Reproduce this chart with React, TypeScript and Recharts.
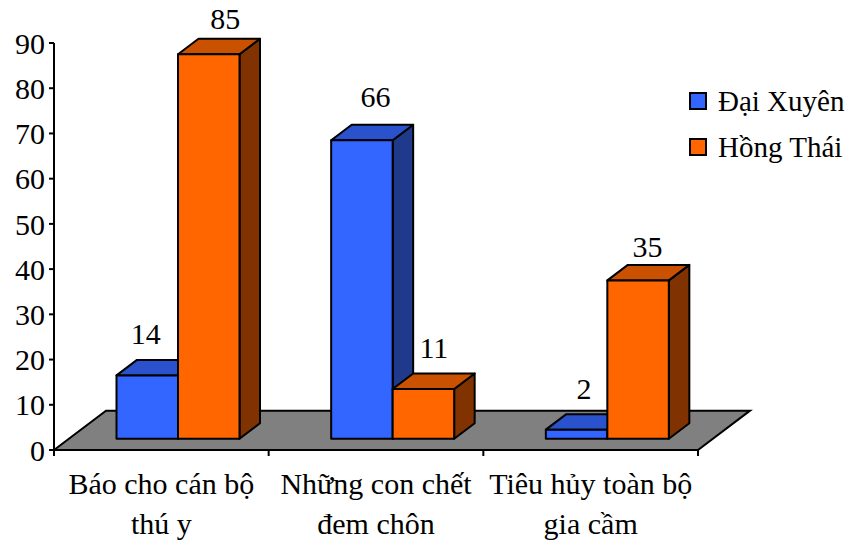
import { BarChart, Bar, XAxis, YAxis, Legend, LabelList, ReferenceArea } from 'recharts';

const categories = ['Báo cho cán bộ\nthú y', 'Những con chết\nđem chôn', 'Tiêu hủy toàn bộ\ngia cầm'];
const daiXuyen = [14, 66, 2];
const hongThai = [85, 11, 35];
const yTicks = [0, 10, 20, 30, 40, 50, 60, 70, 80, 90];

const chartData = categories.map((name, i) => ({ name, daiXuyen: daiXuyen[i], hongThai: hongThai[i] }));

const FONT = '"Liberation Serif", "Times New Roman", serif';
const FONT_SIZE = 30;
const LEGEND_FONT_SIZE = 29;

const PLOT_WIDTH = 644;
const BAND = PLOT_WIDTH / categories.length;

// Fake 3D: bars sit partway back on the floor and extrude up and to the right
const SHIFT_X = 16.5;
const SHIFT_Y = -11.3;
const DEPTH_X = 20.5;
const DEPTH_Y = -15.5;
const FLOOR_SKEW = 52;
const FLOOR_UNITS = 8.7; // floor depth in axis units

const shades: Record<string, { top: string; side: string }> = {
  '#3366FF': { top: '#2952CC', side: '#1F3A8A' },
  '#FF6600': { top: '#C95100', side: '#803300' }
};

const Bar3D = ({ x, y, width, height, fill }: any) => {
  const left = x + SHIFT_X;
  const right = left + width;
  const top = y + SHIFT_Y;
  const bottom = top + height;
  const { top: topFill, side: sideFill } = shades[fill];
  return (
    <g stroke="#000" strokeWidth={2} strokeLinejoin="round">
      <polygon
        points={`${right},${top} ${right + DEPTH_X},${top + DEPTH_Y} ${right + DEPTH_X},${bottom + DEPTH_Y} ${right},${bottom}`}
        fill={sideFill}
      />
      <polygon
        points={`${left},${top} ${left + DEPTH_X},${top + DEPTH_Y} ${right + DEPTH_X},${top + DEPTH_Y} ${right},${top}`}
        fill={topFill}
      />
      <rect x={left} y={top} width={width} height={height} fill={fill} />
    </g>
  );
};

const Floor = ({ x, y, width, height }: any) => (
  <polygon
    points={`${x},${y + height} ${x + FLOOR_SKEW},${y} ${x + width + FLOOR_SKEW},${y} ${x + width},${y + height}`}
    fill="#808080"
    stroke="#000"
    strokeWidth={2}
  />
);

// Small hand adjustments so each value clears its bar's top face
const daiXuyenNudge = [
  { dx: 15, dy: -43 },
  { dx: 30, dy: -45 },
  { dx: 24, dy: -42 }
];
const hongThaiNudge = [
  { dx: 33, dy: -37 },
  { dx: 27, dy: -42 },
  { dx: 26, dy: -35 }
];

const valueLabel = (nudge: { dx: number; dy: number }[]) => (props: any) => {
  const { x, y, width, value, index } = props;
  return (
    <text
      x={x + width / 2 + nudge[index].dx}
      y={y + nudge[index].dy}
      textAnchor="middle"
      fontFamily={FONT}
      fontSize={FONT_SIZE}
      fill="#000"
    >
      {value}
    </text>
  );
};

// Category label plus the tick marks, which fall on the band edges instead of the centres
const CategoryTick = ({ x, y, payload, index }: any) => (
  <g>
    <line x1={x - BAND / 2} x2={x - BAND / 2} y1={y} y2={y + 6} stroke="#000" strokeWidth={2} />
    {index === categories.length - 1 && (
      <line x1={x + BAND / 2} x2={x + BAND / 2} y1={y} y2={y + 6} stroke="#000" strokeWidth={2} />
    )}
    <text x={x} y={y} textAnchor="middle" fontFamily={FONT} fontSize={FONT_SIZE} fill="#000">
      {String(payload.value)
        .split('\n')
        .map((line: string, i: number) => (
          <tspan key={line} x={x} dy={i === 0 ? 44 : 40}>
            {line}
          </tspan>
        ))}
    </text>
  </g>
);

const LegendBox = ({ payload }: any) => (
  <div style={{ fontFamily: FONT, fontSize: LEGEND_FONT_SIZE, color: '#000' }}>
    {payload.map((entry: any) => (
      <div key={entry.value} style={{ display: 'flex', alignItems: 'center', height: 46 }}>
        <span
          style={{
            display: 'inline-block',
            boxSizing: 'border-box',
            width: 18,
            height: 18,
            marginRight: 11,
            border: '2px solid #000',
            backgroundColor: entry.color
          }}
        />
        <span style={{ whiteSpace: 'nowrap' }}>{entry.value}</span>
      </div>
    ))}
  </div>
);

export default function App() {
  return (
    <div style={{ position: 'absolute', left: 0, top: 0 }}>
      <BarChart
        width={848}
        height={541}
        data={chartData}
        margin={{ top: 43, right: -9, bottom: 0, left: 0 }}
        barGap={0}
        barSize={61.5}
      >
        <ReferenceArea y1={0} y2={FLOOR_UNITS} shape={Floor} ifOverflow="visible" />
        <XAxis
          dataKey="name"
          height={91}
          interval={0}
          tick={<CategoryTick />}
          tickSize={0}
          tickMargin={0}
          tickLine={false}
          axisLine={{ stroke: '#000', strokeWidth: 2 }}
        />
        <YAxis
          width={54}
          domain={[0, 90]}
          ticks={yTicks}
          interval={0}
          tick={{ fontFamily: FONT, fontSize: FONT_SIZE, fill: '#000' }}
          tickSize={5}
          tickMargin={4}
          tickLine={{ stroke: '#000', strokeWidth: 2 }}
          axisLine={{ stroke: '#000', strokeWidth: 2 }}
        />
        <Legend
          layout="vertical"
          align="right"
          verticalAlign="top"
          itemSorter="dataKey"
          content={<LegendBox />}
          wrapperStyle={{ left: 689, top: 78, width: 159, right: 'auto' }}
        />
        <Bar dataKey="daiXuyen" name="Đại Xuyên" fill="#3366FF" shape={Bar3D} isAnimationActive={false}>
          <LabelList content={valueLabel(daiXuyenNudge)} />
        </Bar>
        <Bar dataKey="hongThai" name="Hồng Thái" fill="#FF6600" shape={Bar3D} isAnimationActive={false}>
          <LabelList content={valueLabel(hongThaiNudge)} />
        </Bar>
      </BarChart>
    </div>
  );
}
